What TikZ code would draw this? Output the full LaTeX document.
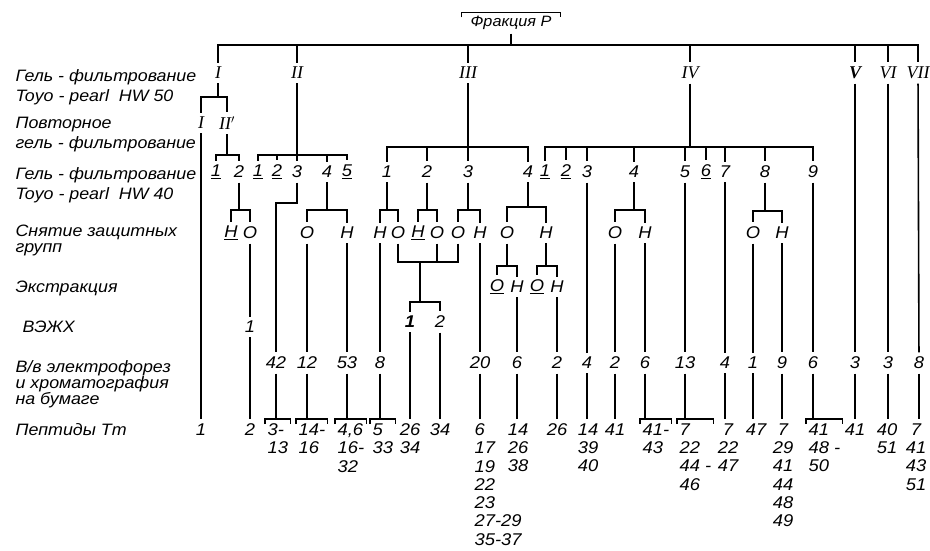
\documentclass[tikz,border=0pt]{standalone}
\usepackage{fontspec}
\setmainfont[FakeStretch=1.08]{Liberation Sans}
\newfontfamily\romfont{Liberation Serif}
\newcommand\undl[1]{\underline{#1}}
% fork: stem from parent down to a bar at y=#2, then ticks to children
\newcommand\fork[3]{%
  \draw (#1.south) -- (#1.south |- 0,#2);
  \foreach \ch in {#3}{\draw (#1.south |- 0,#2) -| (\ch.north);}}
% bracket on top of a peptide group
\newcommand\capbr[1]{%
  \draw ([yshift=-5pt]#1.north west) -- (#1.north west) -- (#1.north east) -- ([yshift=-5pt]#1.north east);}
\begin{document}
\begin{tikzpicture}[x=1pt, y=-1pt,
  line width=1.2pt,
  lbl/.style={anchor=west, align=left, inner sep=0pt, font=\fontsize{16.5}{20}\selectfont\itshape},
  lbls/.style={lbl, font=\fontsize{16.5}{16}\selectfont\itshape},
  rom/.style={inner xsep=2pt, inner ysep=4pt, font=\romfont\fontsize{18}{18}\selectfont\itshape},
  num/.style={inner xsep=2pt, inner ysep=4pt, font=\fontsize{17}{18.3}\selectfont\itshape},
  pep/.style={num, anchor=north, align=center},
  pepl/.style={num, anchor=north west, align=left},
  heavy/.style={line width=2pt}
]
\useasboundingbox (0,0) rectangle (930,550);

% row labels
\node[lbl] (lgf) at (15,87) {Гель - фильтрование\\Toyo - pearl\ \ HW 50};
\node[lbl] (lrep) at (15,135) {Повторное\\гель - фильтрование};
\node[lbl] (lgfb) at (15,185) {Гель - фильтрование\\Toyo - pearl\ \ HW 40};
\node[lbls] (ldep) at (15,240) {Снятие защитных\\групп};
\node[lbl] (lext) at (15,288) {Экстракция};
\node[lbl] (lhplc) at (22,327) {ВЭЖХ};
\node[lbls] (lel) at (15,384) {В/в электрофорез\\и хроматография\\на бумаге};
\node[lbl] (lpep) at (15,430) {Пептиды Tm};

% fraction P
\node[num, font=\fontsize{15}{16}\selectfont\itshape, minimum width=98pt, minimum height=20pt, inner sep=0pt] (frac) at (511,23) {Фракция P};
\capbr{frac}

% gel filtration HW 50
\node[rom] (rI) at (218,73) {I};
\node[rom] (rII) at (297,73) {II};
\node[rom] (rIII) at (468,73) {III};
\node[rom] (rIV) at (690,73) {IV};
\node[rom, font=\romfont\fontsize{18}{18}\selectfont\itshape\bfseries] (rV) at (855,73) {V};
\node[rom] (rVI) at (888,73) {VI};
\node[rom] (rVII) at (918,73) {VII};
\fork{frac}{45}{rI,rII,rIII,rIV,rV,rVI,rVII}

% repeated gel filtration
\node[rom] (rIa) at (201,123) {I};
\node[rom] (rIIa) at (227,123) {II$'$};
\fork{rI}{97}{rIa,rIIa}

% gel filtration HW 40
\node[num] (a1) at (216,172) {\undl{1}};
\node[num] (a2) at (239,172) {2};
\fork{rIIa}{155}{a1,a2}
\node[num] (b1) at (258,172) {\undl{1}};
\node[num] (b2) at (277,172) {\undl{2}};
\node[num] (b3) at (297,172) {3};
\node[num] (b4) at (327,172) {4};
\node[num] (b5) at (347,172) {\undl{5}};
\fork{rII}{155}{b1,b2,b3,b4,b5}
\node[num] (c1) at (387,172) {1};
\node[num] (c2) at (427,172) {2};
\node[num] (c3) at (468,172) {3};
\node[num] (c4) at (528,172) {4};
\fork{rIII}{147}{c1,c2,c3,c4}
\node[num] (d1) at (545,172) {\undl{1}};
\node[num] (d2) at (566,172) {\undl{2}};
\node[num] (d3) at (587,172) {3};
\node[num] (d4) at (634,172) {4};
\node[num] (d5) at (685,172) {5};
\node[num] (d6) at (706,172) {\undl{6}};
\node[num] (d7) at (725,172) {7};
\node[num] (d8) at (765,172) {8};
\node[num] (d9) at (813,172) {9};
\fork{rIV}{147}{d1,d2,d3,d4,d5,d6,d7,d8,d9}

% deprotection
\node[num] (aH) at (231,233) {\undl{Н}};
\node[num] (aO) at (250,233) {О};
\fork{a2}{210}{aH,aO}
\node[num] (bO) at (307,233) {О};
\node[num] (bH) at (347,233) {Н};
\fork{b4}{210}{bO,bH}
\node[num] (c1H) at (380,233) {Н};
\node[num] (c1O) at (398,233) {О};
\fork{c1}{210}{c1H,c1O}
\node[num] (c2H) at (418,233) {\undl{Н}};
\node[num] (c2O) at (437,233) {О};
\fork{c2}{210}{c2H,c2O}
\node[num] (c3O) at (458,233) {О};
\node[num] (c3H) at (480,233) {Н};
\fork{c3}{210}{c3O,c3H}
\node[num] (c4O) at (507,233) {О};
\node[num] (c4H) at (546,233) {Н};
\fork{c4}{207}{c4O,c4H}
\node[num] (d4O) at (615,233) {О};
\node[num] (d4H) at (645,233) {Н};
\fork{d4}{210}{d4O,d4H}
\node[num] (d8O) at (753,233) {О};
\node[num] (d8H) at (782,233) {Н};
\fork{d8}{211}{d8O,d8H}

% extraction
\node[num] (e1O) at (497,287) {\undl{О}};
\node[num] (e1H) at (517,287) {Н};
\fork{c4O}{266}{e1O,e1H}
\node[num] (e2O) at (537,287) {\undl{О}};
\node[num] (e2H) at (557,287) {Н};
\fork{c4H}{266}{e2O,e2H}

% pooled O fractions
\coordinate (m) at (420,262);
\draw (c1O.south) |- (m);
\draw (c2O.south) |- (m);
\draw (c3O.south) |- (m);
\node[num] (h1) at (410,322) {\bfseries 1};
\node[num] (h2) at (440,322) {2};
\draw (m) -- (m |- 0,302);
\draw (m |- 0,302) -| (h1.north);
\draw (m |- 0,302) -| (h2.north);

% HPLC
\node[num] (v1) at (250,327) {1};

% electrophoresis / paper chromatography
\node[num] (n42) at (276,363) {42};
\node[num] (n12) at (307,363) {12};
\node[num] (n53) at (347,363) {53};
\node[num] (n8) at (380,363) {8};
\node[num] (n20) at (480,363) {20};
\node[num] (n6a) at (517,363) {6};
\node[num] (n2a) at (557,363) {2};
\node[num] (n4a) at (587,363) {4};
\node[num] (n2b) at (615,363) {2};
\node[num] (n6b) at (645,363) {6};
\node[num] (n13) at (685,363) {13};
\node[num] (n4b) at (725,363) {4};
\node[num] (n1) at (753,363) {1};
\node[num] (n9) at (782,363) {9};
\node[num] (n6c) at (813,363) {6};
\node[num] (n3a) at (855,363) {3};
\node[num] (n3b) at (888,363) {3};
\node[num] (n8b) at (919,363) {8};

\draw (aO) -- (v1);
\draw (b3.south) -- (b3.south |- 0,203) -| (n42.north);
\draw (bO) -- (n12);
\draw (bH) -- (n53);
\draw (c1H) -- (n8);
\draw (c3H) -- (n20);
\draw (e1H) -- (n6a);
\draw (e2H) -- (n2a);
\draw (d3) -- (n4a);
\draw (d4O) -- (n2b);
\draw (d4H) -- (n6b);
\draw (d5) -- (n13);
\draw (d7) -- (n4b);
\draw (d8O) -- (n1);
\draw (d8H) -- (n9);
\draw (d9) -- (n6c);
\draw[heavy] (rV) -- (n3a);
\draw (rVI) -- (n3b);
\draw[heavy, line width=1.6pt] (rVII) -- (n8b);

% peptides Tm
\node[pep] (p1) at (201,419) {1};
\node[pep] (p2) at (250,419) {2};
\node[pepl] (q42) at (265,419) {3-\\13};
\node[pepl] (q12) at (296,419) {14-\\16};
\node[pepl] (q53) at (335,419) {4,6\\16-\\32};
\node[pepl] (q8) at (370,419) {5\\33};
\node[pep] (q26) at (410,419) {26\\34};
\node[pep] (q34) at (440,419) {34};
\node[pepl] (q20) at (472,419) {6\\17\\19\\22\\23\\27-29\\35-37};
\node[pep] (q6a) at (518,419) {14\\26\\38};
\node[pep] (q2a) at (557,419) {26};
\node[pep] (q4a) at (588,419) {14\\39\\40};
\node[pep] (q2b) at (615,419) {41};
\node[pepl] (q6b) at (640,419) {41-\\43};
\node[pepl] (q13) at (677,419) {7\\22\\44 -\\46};
\node[pep] (q4b) at (728,419) {7\\22\\47};
\node[pep] (q1) at (756,419) {47};
\node[pep] (q9) at (783,419) {7\\29\\41\\44\\48\\49};
\node[pepl] (q6c) at (806,419) {41\\48 -\\50};
\node[pep] (q3a) at (855,419) {41};
\node[pep] (q3b) at (887,419) {40\\51};
\node[pep] (q8b) at (916,419) {7\\41\\43\\51};

\draw (rIa) -- (p1);
\draw (v1) -- (p2);
\draw (h1) -- (q26);
\draw (h2) -- (q34);
\foreach \src/\dst in {n42/q42, n12/q12, n53/q53, n8/q8, n20/q20, n6a/q6a, n2a/q2a,
  n4a/q4a, n2b/q2b, n6b/q6b, n13/q13, n4b/q4b, n1/q1, n9/q9, n6c/q6c, n3a/q3a, n3b/q3b, n8b/q8b}
  {\draw (\src.south) -- (\src.south |- \dst.north);}
\foreach \grp in {q42, q12, q53, q8, q6b, q13, q6c}
  {\capbr{\grp}}
\end{tikzpicture}
\end{document}
